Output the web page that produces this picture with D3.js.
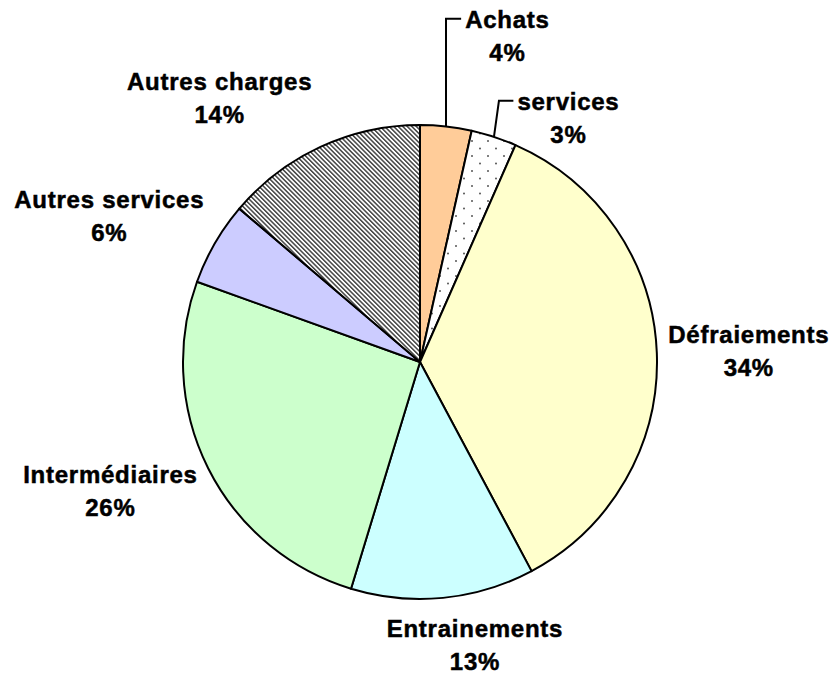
<!DOCTYPE html>
<html>
<head>
<meta charset="utf-8">
<script src="https://cdn.jsdelivr.net/npm/d3@7"></script>
<style>
  body { margin: 0; background: #fff; }
  .lbl { font-family: "Liberation Sans", Arial, sans-serif; font-weight: bold; font-size: 24px; letter-spacing: 0.75px; fill: #000; stroke: #000; stroke-width: 0.5px; }
</style>
</head>
<body>
<svg id="chart"></svg>
<script>
// slices, clockwise from 12 o'clock (shares)
const categories = ['Achats', 'services', 'Défraiements', 'Entrainements', 'Intermédiaires', 'Autres services', 'Autres charges']
const shares = [3.5, 3.1, 35.6, 12.5, 25.8, 5.7, 13.8]
const pctLabels = ['4%', '3%', '34%', '13%', '26%', '6%', '14%']

const width = 840, height = 677
const cx = 420, cy = 362, r = 237

const svg = d3.select('#chart').attr('width', width).attr('height', height)

// fills
const defs = svg.append('defs')
const hatch = defs.append('pattern')
    .attr('id', 'hatch')
    .attr('patternUnits', 'userSpaceOnUse')
    .attr('width', 3.2).attr('height', 3.2)
    .attr('patternTransform', 'rotate(-45)')
hatch.append('rect').attr('width', 3.2).attr('height', 3.2).attr('fill', '#fff')
hatch.append('rect').attr('width', 1.5).attr('height', 3.2).attr('fill', '#444')

const dots = defs.append('pattern')
    .attr('id', 'dots')
    .attr('patternUnits', 'userSpaceOnUse')
    .attr('width', 16).attr('height', 15)
dots.append('rect').attr('width', 16).attr('height', 15).attr('fill', '#fff')
dots.append('circle').attr('cx', 4).attr('cy', 4).attr('r', 1).attr('fill', '#555')
dots.append('circle').attr('cx', 12).attr('cy', 11.5).attr('r', 1).attr('fill', '#555')

const color = d3.scaleOrdinal()
    .domain(categories)
    .range(['#FFCC99', 'url(#dots)', '#FFFFCC', '#CCFFFF', '#CCFFCC', '#CCCCFF', 'url(#hatch)'])

const pie = d3.pie().sort(null).value(d => d.v)
const arcs = pie(categories.map((c, i) => ({c: c, v: shares[i], p: pctLabels[i]})))

const arc = d3.arc().innerRadius(0).outerRadius(r)
const labelArc = d3.arc().innerRadius(r + 40).outerRadius(r + 40)
const edgeArc = d3.arc().innerRadius(r).outerRadius(r)

const g = svg.append('g').attr('transform', `translate(${cx},${cy})`)

g.selectAll('path.slice')
    .data(arcs)
    .join('path')
        .attr('class', 'slice')
        .attr('d', arc)
        .attr('fill', d => color(d.data.c))
        .attr('stroke', '#000')
        .attr('stroke-width', 2)
        .attr('stroke-linejoin', 'round')

// Excel-style placement: nudge from the radial anchor
const nudge = [[57, -51], [62, 19], [52, -1], [28, 7], [-62, 5], [-71, -7], [-84, -13]]
const leader = [true, true, false, false, false, false, false]

arcs.forEach((d, i) => {
    let base = labelArc.centroid(d)
    let x = base[0] + nudge[i][0]
    let y = base[1] + nudge[i][1]

    let t = g.append('text')
        .attr('class', 'lbl')
        .attr('text-anchor', 'middle')
        .attr('x', x)
        .attr('y', y - 8)
    t.append('tspan').attr('x', x).text(d.data.c)
    t.append('tspan').attr('x', x).attr('dy', 33).text(d.data.p)

    if (leader[i]) {
        let w = t.node().getBBox().width
        let s = edgeArc.centroid(d)
        let end = x - w / 2 - 4
        let ly = y - 17
        // long leaders rise straight up, short ones lean a little
        let elbow = (s[1] - ly) > 40 ? s[0] : s[0] + 5
        g.append('polyline')
            .attr('points', [[s[0], s[1]], [elbow, ly], [end, ly]].map(p => p.join(',')).join(' '))
            .attr('fill', 'none')
            .attr('stroke', '#000')
            .attr('stroke-width', 2)
    }
})
</script>
</body>
</html>
